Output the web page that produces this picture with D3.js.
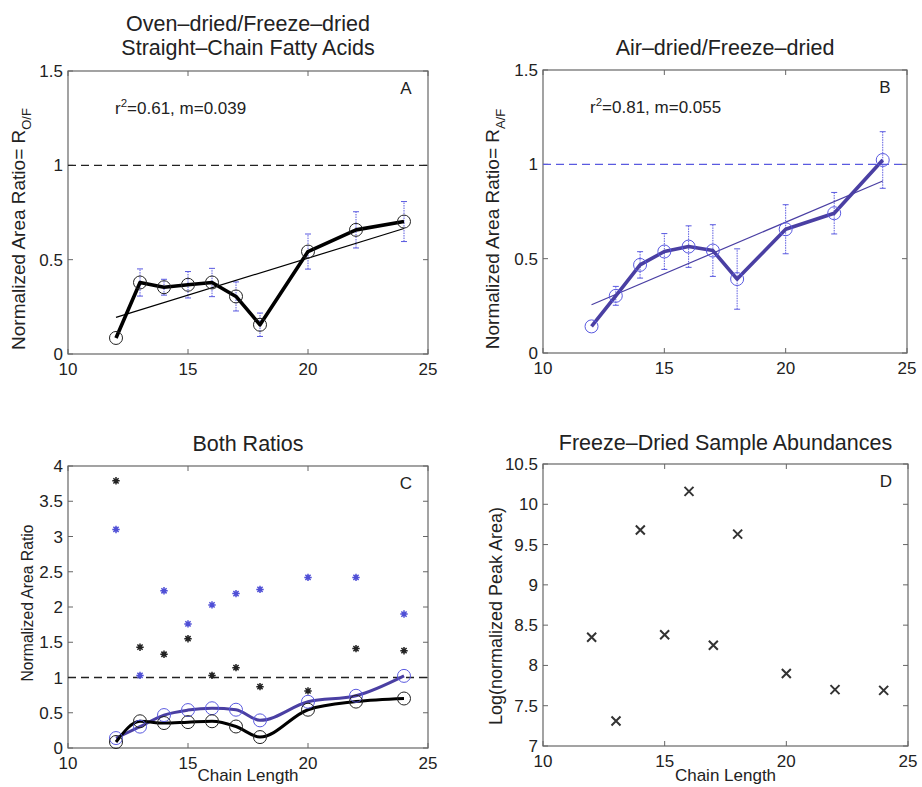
<!DOCTYPE html>
<html><head><meta charset="utf-8">
<script src="https://cdn.jsdelivr.net/npm/d3@7"></script>
<style>body{margin:0;background:#fff}svg{display:block;font-family:"Liberation Sans",Arial,sans-serif}</style>
</head><body><svg id="c" width="922" height="787"></svg>
<script>
const chainLength = [12,13,14,15,16,17,18,20,22,24];
const ratioOF = [0.085,0.379,0.354,0.367,0.379,0.305,0.155,0.543,0.658,0.702];
const errOF   = [0.0,0.072,0.042,0.070,0.075,0.077,0.062,0.093,0.096,0.106];
const fitOF   = [0.194,0.665];   // fit line values at x=12 and x=24
const ratioAF = [0.141,0.303,0.467,0.538,0.564,0.543,0.392,0.656,0.741,1.023];
const errAF   = [0.0,0.050,0.070,0.095,0.110,0.137,0.160,0.130,0.110,0.150];
const fitAF   = [0.256,0.912];
const starBlack = [3.79,1.43,1.33,1.55,1.03,1.14,0.87,0.81,1.41,1.38];
const starBlue  = [3.10,1.03,2.23,1.76,2.03,2.19,2.25,2.42,2.42,1.90];
const logPeakArea = [8.35,7.31,9.68,8.38,10.16,8.25,9.63,7.90,7.70,7.69];
const xTicks = [10,15,20,25];
const yTicksAB = [0,0.5,1,1.5];
const yTicksC = [0,0.5,1,1.5,2,2.5,3,3.5,4];
const yTicksD = [7,7.5,8,8.5,9,9.5,10,10.5];

const svg = d3.select("#c");
const BLUE = "#4a3fa3", BLUE_L = "#5a5ae0", TXT = "#222", AX = "#666";

function panel(o){
  const g = svg.append("g");
  const x = d3.scaleLinear().domain([10,25]).range([o.l,o.r]);
  const y = d3.scaleLinear().domain(o.yd).range([o.b,o.t]);
  const tl = 5;
  xTicks.forEach(v=>{
    g.append("line").attr("x1",x(v)).attr("x2",x(v)).attr("y1",o.b).attr("y2",o.b-tl).attr("stroke",AX);
    g.append("line").attr("x1",x(v)).attr("x2",x(v)).attr("y1",o.t).attr("y2",o.t+tl).attr("stroke",AX);
    g.append("text").attr("x",x(v)).attr("y",o.b+21).attr("text-anchor","middle").attr("font-size",17).attr("fill",TXT).text(v);
  });
  o.yt.forEach(v=>{
    g.append("line").attr("x1",o.l).attr("x2",o.l+tl).attr("y1",y(v)).attr("y2",y(v)).attr("stroke",AX);
    g.append("line").attr("x1",o.r).attr("x2",o.r-tl).attr("y1",y(v)).attr("y2",y(v)).attr("stroke",AX);
    g.append("text").attr("x",o.l-5).attr("y",y(v)+6).attr("text-anchor","end").attr("font-size",17).attr("fill",TXT).text(v);
  });
  g.append("rect").attr("x",o.l).attr("y",o.t).attr("width",o.r-o.l).attr("height",o.b-o.t)
    .attr("fill","none").attr("stroke",AX).attr("stroke-width",1.2);
  o.title.forEach((s,i)=>{
    g.append("text").attr("x",(o.l+o.r)/2).attr("y",o.tb[i]).attr("text-anchor","middle")
      .attr("font-size",21.5).attr("fill",TXT).text(s);
  });
  const yl = g.append("text").attr("transform",`translate(${o.ylx},${o.yly}) rotate(-90)`)
    .attr("text-anchor","middle").attr("font-size",o.ylfs).attr("fill",TXT);
  yl.append("tspan").text(o.ylabel);
  if(o.ysub) yl.append("tspan").attr("font-size",13).attr("dy",6).text(o.ysub);
  if(o.xlabel) g.append("text").attr("x",(o.l+o.r)/2).attr("y",Math.min(o.b+36,781)).attr("text-anchor","middle")
      .attr("font-size",17).attr("fill",TXT).text(o.xlabel);
  g.append("text").attr("x",o.r-22).attr("y",o.t+23).attr("text-anchor","middle").attr("font-size",17).attr("fill",TXT).text(o.letter);
  return {g,x,y};
}

function ratioPanel(o, vals, errs, fit, col, circCol, dashCol){
  const {g,x,y} = panel(o);
  g.append("line").attr("x1",o.l).attr("x2",o.r).attr("y1",y(1)).attr("y2",y(1))
    .attr("stroke",dashCol).attr("stroke-width",1.4).attr("stroke-dasharray","8,5");
  chainLength.forEach((c,i)=>{
    if(!errs[i]) return;
    const xx=x(c), y1=y(vals[i]-errs[i]), y2=y(vals[i]+errs[i]);
    g.append("line").attr("x1",xx).attr("x2",xx).attr("y1",y1).attr("y2",y2).attr("stroke",BLUE_L).attr("stroke-width",1).attr("stroke-dasharray","1.5,1");
    [y1,y2].forEach(yy=>g.append("line").attr("x1",xx-3).attr("x2",xx+3).attr("y1",yy).attr("y2",yy).attr("stroke",BLUE_L).attr("stroke-width",1));
  });
  g.append("line").attr("x1",x(12)).attr("x2",x(24)).attr("y1",y(fit[0])).attr("y2",y(fit[1])).attr("stroke",col).attr("stroke-width",1.2);
  g.append("path").attr("d",d3.line().x((d,i)=>x(chainLength[i])).y(d=>y(d))(vals))
    .attr("fill","none").attr("stroke",col).attr("stroke-width",3.6).attr("stroke-linejoin","round");
  g.selectAll(null).data(vals).join("circle").attr("cx",(d,i)=>x(chainLength[i])).attr("cy",d=>y(d))
    .attr("r",6.5).attr("fill","none").attr("stroke",circCol).attr("stroke-width",1);
  g.append("text").attr("x",o.annx).attr("y",o.t+43).attr("font-size",17).attr("fill",TXT)
    .call(t=>{t.append("tspan").text("r");t.append("tspan").attr("font-size",11.5).attr("dy",-7).text("2");t.append("tspan").attr("dy",7).text(o.ann);});
}

ratioPanel({l:68,r:428,t:71,b:354,yd:[0,1.5],yt:yTicksAB,title:["Oven\u2013dried/Freeze\u2013dried","Straight\u2013Chain Fatty Acids"],tb:[31,55],
  ylx:25,yly:229,ylfs:19,ylabel:"Normalized Area Ratio= R",ysub:"O/F",letter:"A",annx:115,ann:"=0.61, m=0.039"},
  ratioOF, errOF, fitOF, "#000", "#222", "#222");
ratioPanel({l:543,r:907,t:70,b:353,yd:[0,1.5],yt:yTicksAB,title:["Air\u2013dried/Freeze\u2013dried"],tb:[55],
  ylx:499,yly:229,ylfs:19,ylabel:"Normalized Area Ratio= R",ysub:"A/F",letter:"B",annx:590,ann:"=0.81, m=0.055"},
  ratioAF, errAF, fitAF, BLUE, BLUE_L, BLUE_L);

(function(){
  const o={l:68,r:428,t:466,b:748,yd:[0,4],yt:yTicksC,title:["Both Ratios"],tb:[451],ylx:33,yly:603,ylfs:15.7,ylabel:"Normalized Area Ratio",xlabel:"Chain Length",letter:"C"};
  const {g,x,y}=panel(o);
  g.append("line").attr("x1",o.l).attr("x2",o.r).attr("y1",y(1)).attr("y2",y(1))
    .attr("stroke","#222").attr("stroke-width",1.4).attr("stroke-dasharray","8,5");
  const star=(sel,vals,col)=>{
    vals.forEach((v,i)=>{
      const cx=x(chainLength[i]), cy=y(v), s=3.7;
      let d="";
      for(let k=0;k<4;k++){const a=k*Math.PI/4;d+=`M${cx-s*Math.cos(a)},${cy-s*Math.sin(a)}L${cx+s*Math.cos(a)},${cy+s*Math.sin(a)}`;}
      sel.append("path").attr("d",d).attr("stroke",col).attr("stroke-width",1.5);
    });
  };
  star(g,starBlue,"#4f4fd6");
  star(g,starBlack,"#222");
  const ln=d3.line().x((d,i)=>x(chainLength[i])).y(d=>y(d)).curve(d3.curveMonotoneX);
  g.append("path").attr("d",ln(ratioAF)).attr("fill","none").attr("stroke",BLUE).attr("stroke-width",3);
  g.append("path").attr("d",ln(ratioOF)).attr("fill","none").attr("stroke","#000").attr("stroke-width",3);
  g.selectAll(null).data(ratioAF).join("circle").attr("cx",(d,i)=>x(chainLength[i])).attr("cy",d=>y(d))
    .attr("r",6.5).attr("fill","none").attr("stroke",BLUE_L).attr("stroke-width",1);
  g.selectAll(null).data(ratioOF).join("circle").attr("cx",(d,i)=>x(chainLength[i])).attr("cy",d=>y(d))
    .attr("r",6.5).attr("fill","none").attr("stroke","#222").attr("stroke-width",1);
})();

(function(){
  const o={l:543,r:908,t:464,b:746,yd:[7,10.5],yt:yTicksD,title:["Freeze\u2013Dried Sample Abundances"],tb:[450],ylx:502,yly:616,ylfs:18,ylabel:"Log(normalized Peak Area)",xlabel:"Chain Length",letter:"D"};
  const {g,x,y}=panel(o);
  logPeakArea.forEach((v,i)=>{
    const cx=x(chainLength[i]), cy=y(v), s=4.5;
    g.append("path").attr("d",`M${cx-s},${cy-s}L${cx+s},${cy+s}M${cx-s},${cy+s}L${cx+s},${cy-s}`)
      .attr("stroke","#333").attr("stroke-width",2);
  });
})();
</script></body></html>
